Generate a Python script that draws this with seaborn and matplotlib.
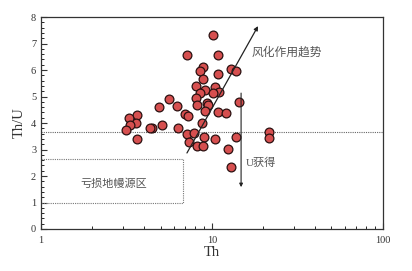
import numpy as np
import pandas as pd
import matplotlib
matplotlib.use("Agg")
import matplotlib.pyplot as plt
import seaborn as sns

th = [10.2, 7.17, 10.8, 8.9, 8.51, 10.8, 12.9, 13.8, 8.9, 8.03,
      10.4, 9.1, 11.0, 8.51, 10.1, 14.3, 5.60, 4.90, 6.22, 8.03,
      8.14, 9.31, 9.51, 9.1, 10.9, 12.0, 6.95, 7.27, 8.7, 5.08,
      4.48, 6.30, 3.66, 3.58, 3.66, 7.17, 7.85, 8.98, 10.4, 7.37,
      8.14, 8.9, 13.9, 12.4, 12.9, 3.28, 3.31, 3.13, 4.34, 21.6, 21.6]
th_u = [7.32, 6.57, 6.57, 6.12, 5.96, 5.84, 6.04, 5.96, 5.65, 5.41,
        5.37, 5.25, 5.18, 5.12, 5.12, 4.80, 4.89, 4.59, 4.64, 4.93,
        4.68, 4.74, 4.68, 4.46, 4.43, 4.37, 4.33, 4.26, 3.99, 3.92,
        3.80, 3.80, 4.30, 3.99, 3.40, 3.58, 3.63, 3.48, 3.40, 3.27,
        3.14, 3.14, 3.48, 3.02, 2.33, 4.18, 3.92, 3.74, 3.82, 3.67, 3.42]

x_ticks = [1, 10, 100]
x_ticklabels = ["1", "10", "100"]
y_ticks = [0, 1, 2, 3, 4, 5, 6, 7, 8]

ref_line = 3.65
box_x = [1, 6.8]
box_y = [1.0, 2.65]
trend_start = (7.14, 2.87)
trend_end = (18.6, 7.66)
u_start = (14.8, 5.13)
u_end = (14.8, 1.58)

sns.set_style("ticks")
plt.rcParams['font.family'] = ['Liberation Serif', 'Noto Sans CJK SC', 'DejaVu Sans']

fig = plt.figure(figsize=(4.12, 2.71), dpi=100)
ax = fig.add_axes([0.0995, 0.155, 0.830, 0.782])

df = pd.DataFrame({"Th": th, "Th/U": th_u})
sns.scatterplot(data=df, x="Th", y="Th/U", ax=ax, s=40, color="#d64f4f",
                edgecolor="#2a1010", linewidth=0.9, zorder=5, legend=False)

ax.set_xscale("log")
ax.set_xlim(1, 100)
ax.set_ylim(0, 8)
ax.set_xticks(x_ticks)
ax.set_xticklabels(x_ticklabels)
ax.set_yticks(y_ticks)
ax.set_yticks(np.arange(0, 8.01, 0.2), minor=True)
ax.tick_params(axis="both", which="major", direction="in", length=4, width=0.8,
               labelsize=7.5, colors="#333333", top=False, right=False)
ax.tick_params(axis="both", which="minor", direction="in", length=2.2, width=0.7,
               top=False, right=False)
ax.tick_params(axis="x", pad=5)
for sp in ax.spines.values():
    sp.set_visible(True)
    sp.set_linewidth(0.9)
    sp.set_color("#333333")

ax.set_xlabel("Th", fontsize=10.5, color="#333333", labelpad=1)
ax.set_ylabel("Th/U", fontsize=10.5, color="#333333", labelpad=4)

ax.axhline(ref_line, color="#666666", linestyle=(0, (1, 1)), linewidth=0.8, zorder=1)
ax.plot([box_x[0], box_x[1], box_x[1], box_x[0]],
        [box_y[1], box_y[1], box_y[0], box_y[0]],
        color="#777777", linestyle=(0, (1, 1)), linewidth=0.8, zorder=1)
ax.text(np.sqrt(box_x[0] * box_x[1]) * 1.02, (box_y[0] + box_y[1]) / 2 - 0.12, "亏损地幔源区",
        ha="center", va="center", fontsize=8, color="#555555",
        family=['Noto Sans CJK SC', 'DejaVu Sans'])

ax.annotate("", xy=trend_end, xytext=trend_start,
            arrowprops=dict(arrowstyle="-|>", color="#222222", lw=0.9,
                            mutation_scale=6, shrinkA=0, shrinkB=0), zorder=6)
ax.text(17.0, 6.68, "风化作用趋势", ha="left", va="center", fontsize=8.5,
        color="#555555", family=['Noto Sans CJK SC', 'DejaVu Sans'])

ax.annotate("", xy=u_end, xytext=u_start,
            arrowprops=dict(arrowstyle="-|>", color="#222222", lw=0.8,
                            mutation_scale=5, shrinkA=0, shrinkB=0), zorder=6)
ax.text(15.7, 2.5, "U获得", ha="left", va="center", fontsize=8,
        color="#555555", family=['Liberation Serif', 'Noto Sans CJK SC', 'DejaVu Sans'])

fig.savefig("out.png", dpi=100)
